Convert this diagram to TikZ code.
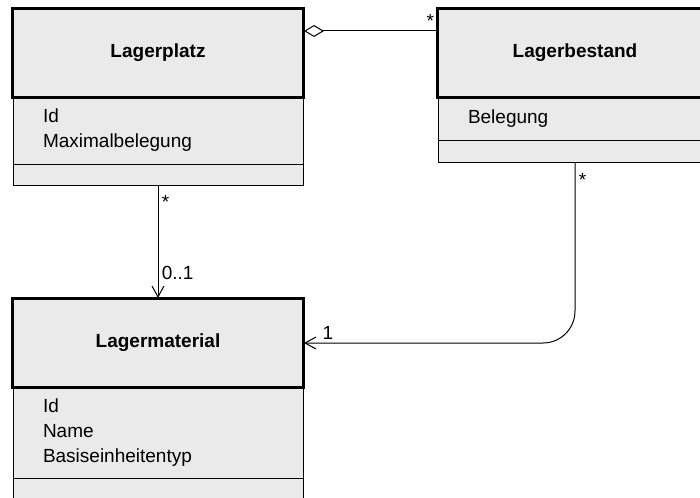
\documentclass[tikz,border=0pt]{standalone}
\usepackage{fontspec}
\setmainfont{Liberation Sans}
\usetikzlibrary{arrows.meta}
\definecolor{classfill}{RGB}{234,234,234}

\begin{document}
\begin{tikzpicture}[x=1pt,y=-1pt]
    \tikzstyle{every node} = [font=\fontsize{19}{25}\selectfont]
    \tikzstyle{header} = [draw, rectangle, fill=classfill, line width=2pt, minimum height=88pt, font=\fontsize{19}{25}\selectfont\bfseries]
    \tikzstyle{attrs} = [draw, rectangle, fill=classfill, line width=1pt, align=left, inner xsep=30pt, inner ysep=0pt]
    \tikzstyle{ops} = [draw, rectangle, fill=classfill, line width=1pt, minimum height=21pt]
    \tikzstyle{assoc} = [-{Straight Barb[length=11pt,width=12pt]}, line width=1pt]
    \useasboundingbox (0,0) rectangle (700,497);
    \clip (0,0) rectangle (700,497);
    % place nodes
    \node[header, minimum width=290pt] (lagerplatz) at (158,53) {Lagerplatz};
    \node[attrs, below of=lagerplatz, node distance=77.5pt, text width=230pt, minimum height=67pt] (lagerplatzAttr) {Id\\Maximalbelegung};
    \node[ops, below of=lagerplatzAttr, node distance=44pt, minimum width=290pt] (lagerplatzOps) {};

    \node[header, right of=lagerplatz, node distance=417pt, minimum width=274pt] (lagerbestand) {Lagerbestand};
    \node[attrs, below of=lagerbestand, node distance=66pt, text width=214pt, minimum height=44pt] (lagerbestandAttr) {Belegung};
    \node[ops, below of=lagerbestandAttr, node distance=32.5pt, minimum width=274pt] (lagerbestandOps) {};

    \node[header, below of=lagerplatz, node distance=290pt, minimum width=290pt] (lagermaterial) {Lagermaterial};
    \node[attrs, below of=lagermaterial, node distance=89.5pt, text width=230pt, minimum height=91pt] (lagermaterialAttr) {Id\\Name\\Basiseinheitentyp};
    \node[ops, below of=lagermaterialAttr, node distance=56pt, minimum width=290pt] (lagermaterialOps) {};

    \foreach \cls in {lagerplatz,lagerbestand,lagermaterial}
        \draw[line width=2pt] (\cls.south west) rectangle (\cls.north east);

    % Connections
    \draw[{Diamond[open,length=20pt,width=12pt]}-, line width=1pt]
    ([yshift=22pt]lagerplatz.east) -- node[pos=0.95,above]{*} ([yshift=22pt]lagerbestand.west);
    \draw[assoc]
    (lagerplatzOps.south) -- node[pos=0.15,right]{*} node[pos=0.78,right]{0..1} (lagermaterial.north);
    \draw[assoc, rounded corners=32pt]
    (lagerbestandOps.south) |- node[pos=0.047,right]{*} node[pos=0.956,above]{1} (lagermaterial.east);

\end{tikzpicture}
\end{document}
